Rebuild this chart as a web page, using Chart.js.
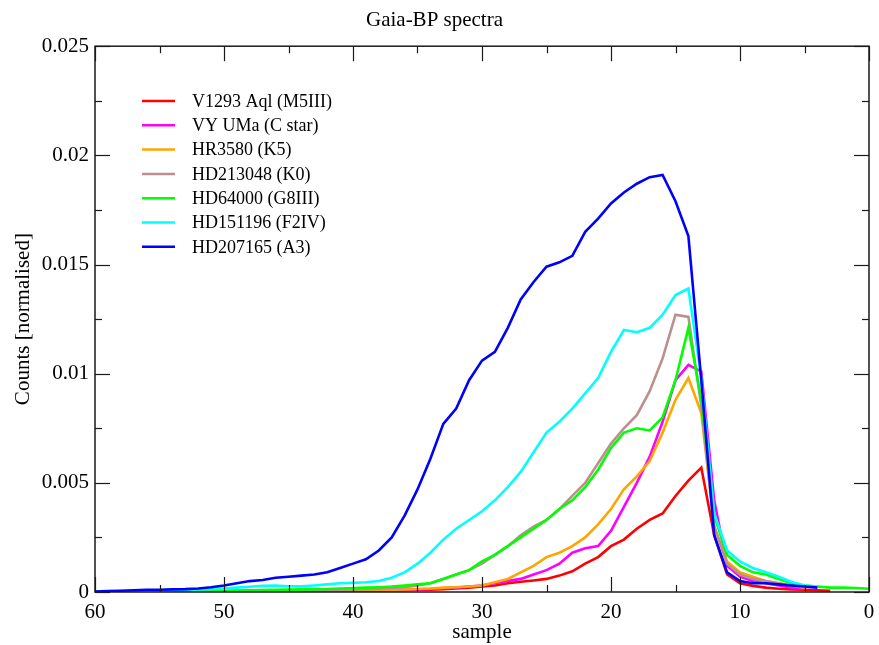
<!DOCTYPE html>
<html>
<head>
<meta charset="utf-8">
<script src="https://cdn.jsdelivr.net/npm/chart.js@4/dist/chart.umd.min.js"></script>
<style>
  html, body { margin: 0; padding: 0; background: #fff; }
  #wrap { width: 879px; height: 645px; }
</style>
</head>
<body>
<div id="wrap"><canvas id="myChart" width="879" height="645"></canvas></div>
<script>
// sample positions, 60 down to 0
const sample = [60,59,58,57,56,55,54,53,52,51,50,49,48,47,46,45,44,43,42,41,40,
  39,38,37,36,35,34,33,32,31,30,29,28,27,26,25,24,23,22,21,20,
  19,18,17,16,15,14,13,12,11,10,9,8,7,6,5,4,3,2,1,0]

// normalised counts per star, same order as sample
const v1293 = [0,0,0,0.00001,0.00001,0.00001,0.00001,0.00002,0.00002,0.00002,0.00002,
  0.00002,0.00003,0.00003,0.00003,0.00003,0.00004,0.00004,0.00004,0.00005,0.00005,
  0.00006,0.00006,0.00007,0.00008,0.0001,0.00011,0.00013,0.00016,0.0002,0.00025,
  0.0003,0.0004,0.00047,0.00053,0.0006,0.00075,0.00095,0.0013,0.0016,0.0021,
  0.0024,0.0029,0.0033,0.0036,0.0044,0.0051,0.0057,0.0026,0.0008,0.0004,
  0.00028,0.0002,0.00015,0.00012,0.0001,0.00008,0.00005,null,null,null]
const vyUma = [0,0,0.00001,0.00001,0.00001,0.00001,0.00002,0.00002,0.00002,0.00003,0.00003,
  0.00003,0.00003,0.00004,0.00004,0.00004,0.00005,0.00005,0.00005,0.00006,0.00006,
  0.00007,0.00008,0.00009,0.0001,0.00012,0.00014,0.00017,0.0002,0.00025,0.0003,
  0.0004,0.0005,0.0006,0.0008,0.001,0.0013,0.0018,0.002,0.0021,0.0028,
  0.0039,0.005,0.0062,0.0078,0.0097,0.0104,0.0101,0.0042,0.0012,0.0007,
  0.0005,0.0004,0.0003,0.0002,0.00015,null,null,null,null,null]
const hr3580 = [0,0,0.00001,0.00001,0.00001,0.00002,0.00002,0.00002,0.00003,0.00003,0.00003,
  0.00004,0.00004,0.00004,0.00005,0.00005,0.00006,0.00006,0.00007,0.00008,0.00008,
  0.00009,0.0001,0.00011,0.00012,0.00014,0.00016,0.0002,0.00022,0.00025,0.0003,
  0.00045,0.0006,0.0009,0.0012,0.0016,0.0018,0.0021,0.0025,0.0031,0.0038,
  0.0047,0.0053,0.006,0.0073,0.0088,0.0098,0.0082,0.003,0.0014,0.0009,
  0.0007,0.0005,0.0004,0.0003,0.0002,null,null,null,null,null]
const hd213048 = [0,0.00001,0.00001,0.00001,0.00002,0.00002,0.00002,0.00003,0.00003,0.00004,0.00004,
  0.00005,0.00005,0.00006,0.00006,0.00007,0.00008,0.00009,0.0001,0.00011,0.00012,
  0.00013,0.00015,0.00018,0.00022,0.0003,0.0004,0.0006,0.0008,0.001,0.0013,
  0.0017,0.0021,0.0026,0.003,0.0033,0.0038,0.0044,0.005,0.0059,0.0068,
  0.0075,0.0081,0.0092,0.0107,0.0127,0.0126,0.0085,0.003,0.0013,0.0008,
  0.0006,0.0005,0.0004,0.0003,0.0002,null,null,null,null,null]
const hd64000 = [0,0.00001,0.00001,0.00001,0.00002,0.00002,0.00003,0.00003,0.00004,0.00005,0.00006,
  0.00007,0.00008,0.00009,0.0001,0.00011,0.00012,0.00013,0.00014,0.00016,0.00018,
  0.0002,0.00022,0.00025,0.0003,0.00035,0.0004,0.0006,0.0008,0.001,0.0014,
  0.0017,0.0021,0.0025,0.0029,0.0033,0.0038,0.0042,0.0048,0.0056,0.0066,
  0.0073,0.0075,0.0074,0.008,0.0097,0.0121,0.0088,0.0035,0.0017,0.0012,
  0.0009,0.0008,0.0006,0.0004,0.0003,0.00025,0.0002,0.0002,0.00018,0.00015]
const hd151196 = [0.00002,0.00003,0.00004,0.00005,0.00006,0.00007,0.00008,0.0001,0.00012,0.00014,0.00016,
  0.0002,0.00024,0.00028,0.0003,0.00026,0.00026,0.0003,0.00035,0.0004,0.00042,
  0.00045,0.0005,0.00065,0.0009,0.0013,0.0018,0.0024,0.0029,0.0033,0.0037,
  0.0042,0.0048,0.0055,0.0064,0.0073,0.0078,0.0084,0.0091,0.0098,0.011,
  0.012,0.0119,0.0121,0.0127,0.0136,0.0139,0.0098,0.0036,0.0019,0.0014,
  0.0011,0.0009,0.0007,0.00046,0.0003,0.00025,null,null,null,null]
const hd207165 = [0.00002,0.00004,0.00006,0.00008,0.0001,0.0001,0.00012,0.00013,0.00016,0.00022,0.0003,
  0.0004,0.0005,0.00055,0.00065,0.0007,0.00075,0.0008,0.0009,0.0011,0.0013,
  0.0015,0.0019,0.0025,0.0035,0.0047,0.0061,0.0077,0.0084,0.0097,0.0106,
  0.011,0.0121,0.0134,0.0142,0.0149,0.0151,0.0154,0.0165,0.0171,0.0178,
  0.0183,0.0187,0.019,0.0191,0.0179,0.0163,0.0097,0.0026,0.0009,0.0005,
  0.0004,0.0004,0.00035,0.0003,0.00025,0.0002,null,null,null,null]

const starNames = ['V1293 Aql (M5III)','VY UMa (C star)','HR3580 (K5)','HD213048 (K0)',
  'HD64000 (G8III)','HD151196 (F2IV)','HD207165 (A3)']
const starColors = ['#ff0000','#ff00ff','#ffa500','#bc8f8f','#00ff00','#00ffff','#0000ff']
const starValues = [v1293, vyUma, hr3580, hd213048, hd64000, hd151196, hd207165]

// axis ticks
const xMajor = [0,10,20,30,40,50,60]
const xMinor = [5,15,25,35,45,55]
const yMajor = [0,0.005,0.01,0.015,0.02,0.025]
const yMinor = [0.0025,0.0075,0.0125,0.0175,0.0225]
const yTickLabels = ['0','0.005','0.01','0.015','0.02','0.025']

const serif = '"Liberation Serif", "DejaVu Serif", serif'

// box round the plot with ticks pointing inwards on all four sides
const frameTicks = {
  id: 'frameTicks',
  afterDatasetsDraw(chart) {
    const ctx = chart.ctx
    const a = chart.chartArea
    const x = chart.scales.x, y = chart.scales.y
    ctx.save()
    ctx.strokeStyle = '#1a1a1a'
    ctx.lineWidth = 1.5
    ctx.strokeRect(a.left, a.top, a.right - a.left, a.bottom - a.top)
    ctx.lineWidth = 1.2
    function seg(x1, y1, x2, y2) {
      ctx.beginPath(); ctx.moveTo(x1, y1); ctx.lineTo(x2, y2); ctx.stroke()
    }
    xMajor.concat(xMinor).forEach(function (v, i) {
      const len = i < xMajor.length ? 15 : 7
      const p = Math.round(x.getPixelForValue(v)) + 0.5
      seg(p, a.bottom, p, a.bottom - len)
      seg(p, a.top, p, a.top + len)
    })
    yMajor.concat(yMinor).forEach(function (v, i) {
      const len = i < yMajor.length ? 15 : 7
      const p = Math.round(y.getPixelForValue(v)) + 0.5
      seg(a.left, p, a.left + len, p)
      seg(a.right, p, a.right - len, p)
    })
    ctx.restore()
  }
}

// legend drawn inside the plot, top left
const insideLegend = {
  id: 'insideLegend',
  afterDraw(chart) {
    const ctx = chart.ctx
    ctx.save()
    ctx.font = '18px ' + serif
    ctx.textBaseline = 'middle'
    ctx.fillStyle = '#000'
    chart.data.datasets.forEach(function (ds, i) {
      const yy = 101 + i * 24.3
      ctx.strokeStyle = ds.borderColor
      ctx.lineWidth = 2.5
      ctx.beginPath(); ctx.moveTo(142, yy); ctx.lineTo(175, yy); ctx.stroke()
      ctx.fillText(ds.label, 192, yy + 1)
    })
    ctx.restore()
  }
}

const datasets = starNames.map(function (name, i) {
  return {
    label: name,
    data: sample.map(function (s, j) { return { x: s, y: starValues[i][j] } }),
    borderColor: starColors[i],
    backgroundColor: starColors[i],
    borderWidth: 2.6,
    pointRadius: 0,
    tension: 0,
    spanGaps: false,
    order: starNames.length - i
  }
})

var ctx = document.getElementById('myChart').getContext('2d')
var chart = new Chart(ctx, {
  type: 'line',
  data: { datasets: datasets },
  options: {
    responsive: false,
    animation: false,
    events: [],
    layout: { padding: { left: 0, right: 10, top: 0, bottom: 0 } },
    plugins: {
      legend: { display: false },
      tooltip: { enabled: false },
      title: {
        display: true,
        text: 'Gaia-BP spectra',
        color: '#000',
        font: { family: serif, size: 21, weight: 'normal' },
        padding: { top: 8, bottom: 13 }
      }
    },
    scales: {
      x: {
        type: 'linear',
        reverse: true,
        min: 0,
        max: 60,
        afterFit: function (s) { s.height = 53; s.paddingRight = 0; s.paddingLeft = 0 },
        grid: { display: false, drawTicks: false },
        border: { display: false },
        ticks: {
          stepSize: 10,
          padding: 8,
          color: '#000',
          maxRotation: 0,
          font: { family: serif, size: 21 },
          callback: function (v) { return String(v) }
        },
        title: {
          display: true,
          text: 'sample',
          color: '#000',
          font: { family: serif, size: 21 },
          padding: { top: 0, bottom: 0 }
        }
      },
      y: {
        type: 'linear',
        min: 0,
        max: 0.025,
        afterFit: function (s) { s.width = 95 },
        grid: { display: false, drawTicks: false },
        border: { display: false },
        ticks: {
          stepSize: 0.005,
          padding: 6,
          color: '#000',
          font: { family: serif, size: 21 },
          callback: function (v, i) { return yTickLabels[i] }
        },
        title: {
          display: true,
          text: 'Counts [normalised]',
          color: '#000',
          font: { family: serif, size: 21 },
          padding: { top: 11, bottom: 0 }
        }
      }
    }
  },
  plugins: [frameTicks, insideLegend]
})
</script>
</body>
</html>
